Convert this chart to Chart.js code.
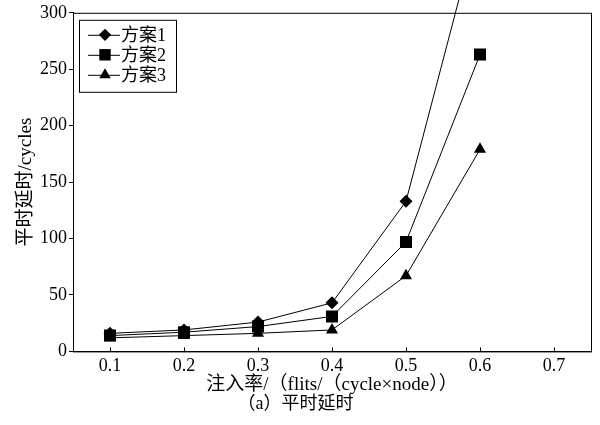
<!DOCTYPE html>
<html>
<head>
<meta charset="utf-8">
<script src="https://cdn.jsdelivr.net/npm/chart.js@4/dist/chart.umd.min.js"></script>
<style>
  html, body { margin: 0; padding: 0; background: #fff; }
  #wrap { width: 600px; height: 425px; }
</style>
</head>
<body>
<div id="wrap"><canvas id="c"></canvas></div>
<script>
// injection rates on the x axis
const rates = [0.1, 0.2, 0.3, 0.4, 0.5, 0.6];
const xTicks = [0.1, 0.2, 0.3, 0.4, 0.5, 0.6, 0.7];

// average latency (cycles)
const plan1 = [16, 19, 26, 43, 133, 383];
const plan2 = [14, 17, 22, 31, 97, 263];
const plan3 = [12, 14, 16, 19, 67, 179];

const seriesNames = ["方案1", "方案2", "方案3"];
const markers = ["rectRot", "rect", "triangle"];
const markerSize = { rectRot: 6.5, rect: 8.5, triangle: 7 };

const FONT = "'Liberation Serif', 'Noto Sans CJK SC', serif";

const toPoints = (vals) => vals.map((v, i) => ({ x: rates[i], y: v }));

const makeSet = (name, vals, marker) => ({
    label: name,
    data: toPoints(vals),
    borderColor: "#000",
    backgroundColor: "#000",
    borderWidth: 1,
    pointStyle: marker,
    pointRadius: markerSize[marker],
    pointBorderWidth: 0,
    clip: { left: 0, top: false, right: 0, bottom: 0 },
    tension: 0,
});

//Frame round the plot area, inward x ticks and the boxed legend
const framePlugin = {
    id: "frame",
    afterDraw(chart) {
        const { ctx, chartArea: a } = chart;
        ctx.save();
        ctx.strokeStyle = "#000";
        ctx.lineWidth = 1;
        ctx.strokeRect(a.left + 0.5, a.top + 0.5, a.right - a.left, a.bottom - a.top);

        xTicks.forEach((v) => {
            const px = Math.round(chart.scales.x.getPixelForValue(v)) + 0.5;
            ctx.beginPath();
            ctx.moveTo(px, a.bottom);
            ctx.lineTo(px, a.bottom - 4);
            ctx.stroke();
        });

        // legend box
        const bx = a.left + 6, by = a.top + 7, bw = 97, bh = 72;
        ctx.fillStyle = "#fff";
        ctx.fillRect(bx, by, bw, bh);
        ctx.strokeRect(bx + 0.5, by + 0.5, bw, bh);

        ctx.font = "18px " + FONT;
        ctx.textBaseline = "middle";
        seriesNames.forEach((name, i) => {
            const y = by + 15 + i * 20;
            ctx.beginPath();
            ctx.moveTo(bx + 9, y + 0.5);
            ctx.lineTo(bx + 41, y + 0.5);
            ctx.stroke();
            ctx.fillStyle = "#000";
            Chart.helpers.drawPoint(ctx, {
                pointStyle: markers[i],
                radius: markerSize[markers[i]] * 0.95,
                rotation: 0,
                borderWidth: 0,
            }, bx + 26, y);
            ctx.fillStyle = "#000";
            ctx.fillText(name, bx + 42, y + 1);
        });
        ctx.restore();
    },
};

new Chart(document.getElementById("c"), {
    type: "line",
    data: {
        datasets: [
            makeSet(seriesNames[0], plan1, markers[0]),
            makeSet(seriesNames[1], plan2, markers[1]),
            makeSet(seriesNames[2], plan3, markers[2]),
        ],
    },
    options: {
        responsive: true,
        maintainAspectRatio: false,
        animation: false,
        layout: { padding: { top: 12, right: 9, left: 0, bottom: 10 } },
        plugins: {
            legend: { display: false },
            tooltip: { enabled: false },
            title: {
                display: true,
                position: "bottom",
                text: "（a）平时延时",
                color: "#000",
                font: { family: FONT, size: 18, weight: "normal" },
                padding: { top: 0, bottom: 0 },
            },
        },
        scales: {
            x: {
                type: "linear",
                min: 0.05,
                max: 0.75,
                afterBuildTicks: (axis) => {
                    axis.ticks = xTicks.map((v) => ({ value: v }));
                },
                afterFit: (axis) => {
                    axis.height = 42;
                },
                ticks: {
                    color: "#000",
                    font: { family: FONT, size: 18 },
                    padding: 4,
                    maxRotation: 0,
                    callback: (v) => v.toFixed(1),
                },
                grid: {
                    drawOnChartArea: false,
                    drawTicks: false,
                    color: "#000",
                },
                border: { color: "#000" },
                title: {
                    display: true,
                    text: "注入率/（flits/（cycle×node））",
                    color: "#000",
                    font: { family: FONT, size: 19 },
                    padding: { top: 0, bottom: -3 },
                },
            },
            y: {
                min: 0,
                max: 300,
                afterFit: (axis) => {
                    axis.width = 73;
                },
                ticks: {
                    stepSize: 50,
                    color: "#000",
                    font: { family: FONT, size: 18 },
                    padding: 2,
                },
                grid: {
                    drawOnChartArea: false,
                    tickLength: 4,
                    color: "#000",
                },
                border: { color: "#000" },
                title: {
                    display: true,
                    text: "平时延时/cycles",
                    color: "#000",
                    font: { family: FONT, size: 19 },
                    padding: { top: 15, bottom: 0 },
                },
            },
        },
    },
    plugins: [framePlugin],
});
</script>
</body>
</html>
